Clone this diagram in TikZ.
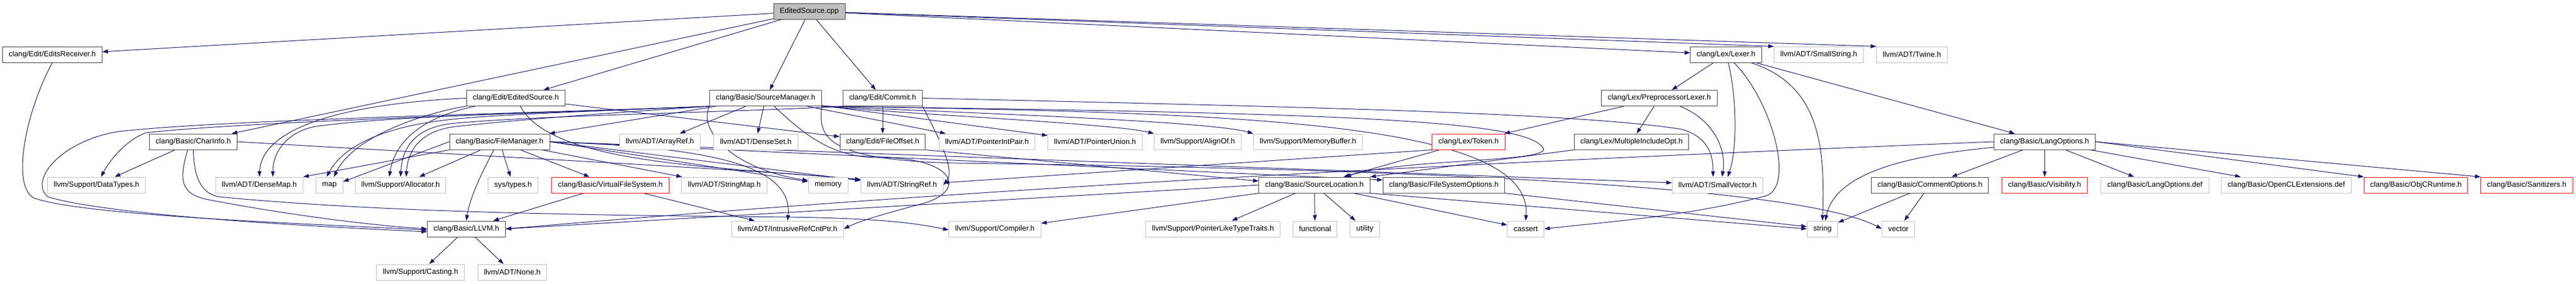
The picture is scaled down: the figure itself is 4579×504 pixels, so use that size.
\documentclass[tikz,border=0pt]{standalone}
\usepackage{fontspec}
\setmainfont{Liberation Sans}
\usetikzlibrary{arrows.meta,backgrounds}

\definecolor{depblue}{HTML}{191970}
\definecolor{boxdark}{HTML}{404040}
\definecolor{boxgray}{HTML}{BFBFBF}

\tikzset{
  filebox/.style={draw,line width=1pt,fill=white,minimum height=28pt,
    inner xsep=11pt,inner ysep=0pt,font=\fontsize{13.3}{16}\selectfont},
  hdr/.style={filebox,draw=boxdark},
  sys/.style={filebox,draw=boxgray},
  trunc/.style={filebox,draw=red},
  root/.style={filebox,draw=boxdark,fill=boxgray},
  dep/.style={draw=depblue,line width=1pt,-{Triangle[length=10pt,width=7pt]}}
}

\begin{document}
\begin{tikzpicture}[x=1pt,y=-1pt]
	\useasboundingbox (0,0) rectangle (4579,504);
	
	% 第0、1层
	\node[root] (cpp) at (1438.5,20) {EditedSource.cpp};
	\node[hdr] (erecv) at (93,97) {clang/Edit/EditsReceiver.h};
	\node[hdr] (lexer) at (3068,97) {clang/Lex/Lexer.h};
	\node[sys] (smallstr) at (3233,97) {llvm/ADT/SmallString.h};
	\node[sys] (twine) at (3398.5,97) {llvm/ADT/Twine.h};
	
	% 第2层
	\node[hdr] (esrch) at (917,174.5) {clang/Edit/EditedSource.h};
	\node[hdr] (srcmgr) at (1361,174.5) {clang/Basic/SourceManager.h};
	\node[hdr] (commit) at (1569,174.5) {clang/Edit/Commit.h};
	\node[hdr] (pplexer) at (2949.5,174.5) {clang/Lex/PreprocessorLexer.h};
	
	% 第3层
	\node[hdr] (charinfo) at (343.5,252) {clang/Basic/CharInfo.h};
	\node[hdr] (filemgr) at (888,252) {clang/Basic/FileManager.h};
	\node[sys] (arrayref) at (1173,252) {llvm/ADT/ArrayRef.h};
	\node[sys] (denseset) at (1343.5,252) {llvm/ADT/DenseSet.h};
	\node[hdr] (fileoff) at (1569,252) {clang/Edit/FileOffset.h};
	\node[sys] (ptrintpair) at (1754.5,252) {llvm/ADT/PointerIntPair.h};
	\node[sys] (ptrunion) at (1946.5,252) {llvm/ADT/PointerUnion.h};
	\node[sys] (alignof) at (2129,252) {llvm/Support/AlignOf.h};
	\node[sys] (membuf) at (2325,252) {llvm/Support/MemoryBuffer.h};
	\node[trunc] (token) at (2610.5,252) {clang/Lex/Token.h};
	\node[hdr] (multinc) at (2900,252) {clang/Lex/MultipleIncludeOpt.h};
	\node[hdr] (langopts) at (3634.5,252) {clang/Basic/LangOptions.h};
	
	% 第4层
	\node[sys] (datatypes) at (171.5,329) {llvm/Support/DataTypes.h};
	\node[sys] (densemap) at (461,329) {llvm/ADT/DenseMap.h};
	\node[sys] (map) at (585.5,329) {map};
	\node[sys] (alloc) at (712,329) {llvm/Support/Allocator.h};
	\node[sys] (systypes) at (912,329) {sys/types.h};
	\node[trunc] (vfs) at (1085,329) {clang/Basic/VirtualFileSystem.h};
	\node[sys] (strmap) at (1287.5,329) {llvm/ADT/StringMap.h};
	\node[sys] (memory) at (1472,329) {memory};
	\node[sys] (strref) at (1603.5,329) {llvm/ADT/StringRef.h};
	\node[hdr] (srcloc) at (2336.5,329) {clang/Basic/SourceLocation.h};
	\node[hdr] (fsopts) at (2566.5,329) {clang/Basic/FileSystemOptions.h};
	\node[sys] (smallvec) at (3053,329) {llvm/ADT/SmallVector.h};
	\node[hdr] (cmtopts) at (3430.5,329) {clang/Basic/CommentOptions.h};
	\node[trunc] (visib) at (3634.5,329) {clang/Basic/Visibility.h};
	\node[sys] (langdef) at (3830.5,329) {clang/Basic/LangOptions.def};
	\node[sys] (opencl) at (4064,329) {clang/Basic/OpenCLExtensions.def};
	\node[trunc] (objcrt) at (4294.5,329) {clang/Basic/ObjCRuntime.h};
	\node[trunc] (sanit) at (4491.5,329) {clang/Basic/Sanitizers.h};
	
	% 第5、6层
	\node[hdr] (llvm) at (829,407) {clang/Basic/LLVM.h};
	\node[sys] (irc) at (1400,407) {llvm/ADT/IntrusiveRefCntPtr.h};
	\node[sys] (compiler) at (1768.5,407) {llvm/Support/Compiler.h};
	\node[sys] (ptrlike) at (2156,407) {llvm/Support/PointerLikeTypeTraits.h};
	\node[sys] (functional) at (2337.5,407) {functional};
	\node[sys] (utility) at (2426,407) {utility};
	\node[sys] (cassert) at (2712,407) {cassert};
	\node[sys] (string) at (3239.5,407) {string};
	\node[sys] (vector) at (3374.5,407) {vector};
	\node[sys] (casting) at (747.5,484) {llvm/Support/Casting.h};
	\node[sys] (none) at (910.5,484) {llvm/ADT/None.h};
	
	\begin{pgfonlayer}{background}
	\fill[white] (0,0) rectangle (4579,504);
	
	% EditedSource.cpp 的依赖
	\draw[dep] (cpp) -- (erecv);
	\draw[dep] (cpp) -- (charinfo);
	\draw[dep] (cpp) -- (esrch);
	\draw[dep] (cpp) -- (srcmgr);
	\draw[dep] (cpp) -- (commit);
	\draw[dep] (cpp) -- (lexer);
	\draw[dep] (cpp) -- (smallstr.north west);
	\draw[dep] (cpp) -- (twine.north west);
	
	% EditsReceiver.h
	\draw[dep] (erecv.south) .. controls (45,200) and (20,330) .. (60,352) .. controls (150,385) and (600,400) .. ([yshift=-2]llvm.west);
	
	% EditedSource.h
	\draw[dep] (esrch) -- (fileoff);
	\draw[dep] (esrch.west) .. controls (600,185) and (465,230) .. (densemap.north);
	\draw[dep] (esrch) .. controls (760,200) and (630,240) .. ([xshift=8]map.north);
	\draw[dep] (esrch) .. controls (740,210) and (700,260) .. ([xshift=-20]alloc.north);
	\draw[dep] (esrch) .. controls (980,290) and (1250,295) .. ([yshift=10]strref.west);
	
	% Commit.h
	\draw[dep] (commit) -- (fileoff);
	\draw[dep] (commit.south east) .. controls (1660,230) and (1700,300) .. (strref.east);
	\draw[dep] (commit.east) .. controls (2300,190) and (2800,200) .. (2990,230) .. controls (3040,245) and (3045,280) .. ([xshift=-8]smallvec.north);
	\draw[dep] (commit.south west) .. controls (1300,200) and (950,205) .. (800,220) .. controls (740,228) and (715,260) .. (alloc.north);
	
	% SourceManager.h
	\draw[dep] (srcmgr) -- (filemgr);
	\draw[dep] (srcmgr) -- (arrayref);
	\draw[dep] (srcmgr) -- (denseset);
	\draw[dep] (srcmgr) -- (ptrintpair);
	\draw[dep] (srcmgr) -- (ptrunion);
	\draw[dep] (srcmgr.south east) .. controls (1650,205) and (1980,220) .. (alignof.north west);
	\draw[dep] (srcmgr.south east) .. controls (1700,200) and (2150,215) .. (membuf.north west);
	\draw[dep] (srcmgr.south east) .. controls (2300,200) and (2700,210) .. (2740,260) .. controls (2780,290) and (2500,280) .. ([xshift=55]srcloc.north);
	\draw[dep] (srcmgr.south east) .. controls (2200,200) and (2725,215) .. (cassert.north);
	\draw[dep] (srcmgr.south east) .. controls (1455,240) and (1460,285) .. (1700,290) .. controls (2500,300) and (3200,330) .. (vector.west);
	\draw[dep] (srcmgr) .. controls (1430,240) and (1480,280) .. (1560,280) .. controls (1700,280) and (1720,340) .. (1640,362) .. controls (1580,378) and (1530,392) .. (irc.east);
	\draw[dep] (srcmgr.south west) .. controls (1240,230) and (1300,300) .. ([yshift=8]memory.west);
	\draw[dep] (srcmgr.south west) .. controls (1100,200) and (950,210) .. (810,225) .. controls (750,232) and (725,265) .. ([xshift=10]alloc.north);
	\draw[dep] (srcmgr.south west) .. controls (1000,200) and (850,205) .. (780,215) .. controls (680,228) and (610,260) .. ([xshift=-5]map.north);
	\draw[dep] (srcmgr.south west) .. controls (1000,200) and (700,205) .. (560,225) .. controls (510,235) and (485,270) .. ([xshift=24]densemap.north);
	\draw[dep] (srcmgr.south west) .. controls (1000,200) and (450,215) .. (260,236) .. controls (225,248) and (195,285) .. ([xshift=8]datatypes.north);
	\draw[dep] (srcmgr.south west) .. controls (1000,200) and (400,212) .. (210,234) .. controls (110,250) and (50,320) .. (85,350) .. controls (200,385) and (600,405) .. ([yshift=-5]llvm.west);
	
	% CharInfo.h
	\draw[dep] (charinfo) -- (datatypes);
	\draw[dep] ([xshift=-10]charinfo.south) .. controls (318,320) and (320,345) .. (370,355) .. controls (500,380) and (650,400) .. (llvm.west);
	\draw[dep] (charinfo.south) .. controls (345,320) and (360,345) .. (390,350) .. controls (700,380) and (1100,383) .. (1400,386) .. controls (1550,388) and (1620,395) .. ([yshift=-2]compiler.west);
	\draw[dep] (charinfo.east) .. controls (900,280) and (1400,305) .. ([yshift=9]strref.west);
	
	% FileManager.h
	\draw[dep] (filemgr) -- (systypes);
	\draw[dep] (filemgr) -- (vfs);
	\draw[dep] (filemgr) -- (alloc);
	\draw[dep] (filemgr) -- (strmap);
	\draw[dep] (filemgr.south west) -- (densemap.north east);
	\draw[dep] (filemgr.west) -- ([yshift=6]map.east);
	\draw[dep] ([xshift=-10]filemgr.south) .. controls (860,300) and (835,350) .. (llvm.north);
	\draw[dep] (filemgr.east) .. controls (1250,262) and (1410,290) .. (irc.north);
	\draw[dep] (filemgr.east) -- ([yshift=6]memory.west);
	\draw[dep] (filemgr.east) -- ([yshift=8]strref.west);
	\draw[dep] (filemgr.east) -- ([yshift=9]fsopts.west);
	\draw[dep] (filemgr.east) -- ([yshift=4]smallvec.west);
	
	% VirtualFileSystem.h 与 LLVM.h
	\draw[dep] (vfs) -- (llvm);
	\draw[dep] (vfs) -- (irc);
	\draw[dep] (llvm) -- (casting);
	\draw[dep] (llvm) -- (none);
	
	% SourceLocation.h 及其上游
	\draw[dep] (fileoff.south east) -- ([yshift=7]srcloc.west);
	\draw[dep] (srcloc) -- (ptrlike);
	\draw[dep] (srcloc) -- (functional);
	\draw[dep] (srcloc) -- (utility);
	\draw[dep] (srcloc) -- (cassert);
	\draw[dep] (srcloc.west) -- (llvm.east);
	\draw[dep] (srcloc.south west) -- ([yshift=10]compiler.east);
	\draw[dep] (srcloc.south east) -- (string.west);
	\draw[dep] (fsopts.south east) -- ([yshift=4]string.west);
	
	% Lex 头文件
	\draw[dep] (token) -- (srcloc);
	\draw[dep] (token.south west) -- ([yshift=4]strref.east);
	\draw[dep] (multinc.south west) -- (srcloc.north east);
	\draw[dep] (pplexer) -- (multinc);
	\draw[dep] (pplexer) -- (token);
	\draw[dep] (pplexer) .. controls (3040,210) and (3070,260) .. ([xshift=8]smallvec.north);
	\draw[dep] (lexer) -- (pplexer);
	\draw[dep] (lexer) .. controls (3085,160) and (3090,260) .. ([xshift=18]smallvec.north);
	\draw[dep] (lexer) .. controls (3150,180) and (3190,330) .. (3140,348) .. controls (3000,385) and (2850,395) .. (cassert.east);
	\draw[dep] (lexer) .. controls (3230,150) and (3245,250) .. (string.north);
	\draw[dep] (lexer) -- (langopts);
	
	% LangOptions.h
	\draw[dep] (langopts) -- (cmtopts);
	\draw[dep] (langopts) -- (visib);
	\draw[dep] (langopts) -- (langdef);
	\draw[dep] (langopts) -- (opencl);
	\draw[dep] (langopts.east) -- (objcrt.north west);
	\draw[dep] (langopts.east) -- (sanit.north west);
	\draw[dep] ([yshift=-10]langopts.west) .. controls (3350,280) and (3260,320) .. ([xshift=5]string.north);
	\draw[dep] (langopts.west) .. controls (2600,290) and (1800,330) .. (llvm.east);
	\draw[dep] (cmtopts) -- (string);
	\draw[dep] (cmtopts) -- (vector);
	\end{pgfonlayer}
	
\end{tikzpicture}
\end{document}
